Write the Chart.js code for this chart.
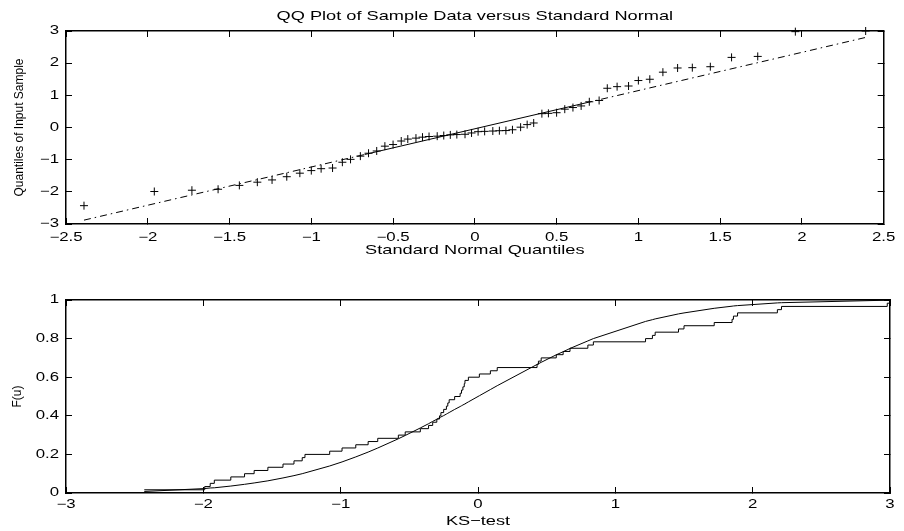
<!DOCTYPE html>
<html>
<head>
<meta charset="utf-8">
<title>QQ Plot of Sample Data versus Standard Normal</title>
<script src="https://cdn.jsdelivr.net/npm/chart.js@4.4.1/dist/chart.umd.min.js"></script>
<style>
  body { margin: 0; background: #fff; }
  #wrap { position: relative; width: 904px; height: 531px; }
  canvas { position: absolute; left: 0; }
  #qqChart { top: 0; }
  #ksChart { top: 265px; }
</style>
</head>
<body>
<div id="wrap">
  <canvas id="qqChart" width="904" height="265"></canvas>
  <canvas id="ksChart" width="904" height="266"></canvas>
</div>
<script>
/* globals Chart:false */

// x of the QQ plot: standard normal quantiles of the 60 points
const normalQuantiles = [
  -2.39, -1.96, -1.73, -1.57, -1.44, -1.33, -1.24, -1.15, -1.07, -1.00,
  -0.94, -0.87, -0.81, -0.76, -0.70, -0.65, -0.60, -0.55, -0.50, -0.45,
  -0.41, -0.36, -0.32, -0.28, -0.23, -0.19, -0.15, -0.11, -0.06, -0.02,
  0.02, 0.06, 0.11, 0.15, 0.19, 0.23, 0.28, 0.32, 0.36, 0.41,
  0.45, 0.50, 0.55, 0.60, 0.65, 0.70, 0.76, 0.81, 0.87, 0.94,
  1.00, 1.07, 1.15, 1.24, 1.33, 1.44, 1.57, 1.73, 1.96, 2.39
];

// sorted sample (y of the QQ plot, jump points of the empirical CDF)
const sampleValues = [
  -2.43, -1.99, -1.95, -1.92, -1.80, -1.70, -1.63, -1.53, -1.42, -1.34,
  -1.28, -1.26, -1.08, -0.99, -0.89, -0.80, -0.73, -0.58, -0.53, -0.42,
  -0.36, -0.33, -0.30, -0.28, -0.27, -0.25, -0.23, -0.22, -0.21, -0.17,
  -0.13, -0.12, -0.11, -0.10, -0.095, -0.07, 0.01, 0.09, 0.14, 0.43,
  0.44, 0.46, 0.57, 0.62, 0.67, 0.80, 0.84, 1.22, 1.27, 1.29,
  1.46, 1.50, 1.72, 1.85, 1.86, 1.89, 2.18, 2.21, 2.98, 3.00
];

// smooth F(u) curve, read at each sample value
const normalCdf = [
  0.008, 0.023, 0.026, 0.027, 0.036, 0.045, 0.052, 0.063, 0.078, 0.090,
  0.100, 0.104, 0.140, 0.161, 0.187, 0.212, 0.233, 0.281, 0.298, 0.337,
  0.359, 0.371, 0.382, 0.390, 0.394, 0.401, 0.409, 0.413, 0.417, 0.433,
  0.448, 0.452, 0.456, 0.460, 0.462, 0.472, 0.504, 0.536, 0.556, 0.666,
  0.670, 0.677, 0.716, 0.732, 0.749, 0.788, 0.800, 0.889, 0.898, 0.902,
  0.928, 0.933, 0.957, 0.968, 0.969, 0.971, 0.985, 0.986, 0.999, 0.999
];

// reference line: ends, first quartile, third quartile
const refLineX = [-2.39, -0.674, 0.674, 2.39];
const refLineY = [-2.88, -0.84, 0.76, 2.80];

const qqXTicks = [-2.5, -2, -1.5, -1, -0.5, 0, 0.5, 1, 1.5, 2, 2.5];
const qqYTicks = [-3, -2, -1, 0, 1, 2, 3];
const ksXTicks = [-3, -2, -1, 0, 1, 2, 3];
const ksYTicks = [0, 0.2, 0.4, 0.6, 0.8, 1];

(() => {
  'use strict'

  Chart.defaults.font.family = "'Liberation Sans', Arial, sans-serif";
  Chart.defaults.color = '#000';
  Chart.defaults.animation = false;

  // the reference text is drawn wide, so stretch horizontal text a bit
  var wideText = {
    id: 'wideText',
    beforeInit: function (chart) {
      var ctx = chart.ctx;
      var fill = ctx.fillText.bind(ctx);
      ctx.fillText = function (text, x, y, maxWidth) {
        var m = ctx.getTransform();
        if (m.b !== 0 || m.c !== 0) return fill(text, x, y, maxWidth);
        ctx.save();
        ctx.translate(x, y);
        ctx.scale(1.4, 1);
        fill(text, 0, 0);
        ctx.restore();
      };
    }
  };

  // one side of the boxed axes, tick marks point inwards
  function makeAxis(position, min, max, tickValues, size, labelPadding, title) {
    return {
      type: 'linear',
      position: position,
      min: min,
      max: max,
      afterBuildTicks: function (scale) {
        scale.ticks = tickValues.map(function (v) { return { value: v }; });
      },
      afterFit: function (scale) {
        if (scale.isHorizontal()) scale.height = size;
        else scale.width = size;
      },
      border: { color: '#000', width: 1.5 },
      grid: { drawOnChartArea: false, color: '#000', lineWidth: 1, tickLength: -6 },
      ticks: {
        display: labelPadding !== null,
        padding: labelPadding || 0,
        autoSkip: false,
        maxRotation: 0,
        font: { size: 12 },
        callback: function (v) { return String(v).replace('-', '\u2212'); }
      },
      title: title || { display: false }
    };
  }

  function pairs(xs, ys) {
    return xs.map(function (x, i) { return { x: x, y: ys[i] }; });
  }

  var qqPoints = pairs(normalQuantiles, sampleValues);
  var lineLeft = pairs(refLineX.slice(0, 2), refLineY.slice(0, 2));
  var lineMid = pairs(refLineX.slice(1, 3), refLineY.slice(1, 3));
  var lineRight = pairs(refLineX.slice(2, 4), refLineY.slice(2, 4));

  var dashDot = [7, 4, 1.5, 4];

  new Chart(document.getElementById('qqChart').getContext('2d'), {
    type: 'scatter',
    data: {
      datasets: [
        { data: qqPoints, pointStyle: 'cross', pointRadius: 4, pointBorderWidth: 1,
          borderColor: '#000', showLine: false, clip: false },
        { data: lineLeft, showLine: true, borderColor: '#000', borderWidth: 1,
          borderDash: dashDot, pointRadius: 0 },
        { data: lineMid, showLine: true, borderColor: '#000', borderWidth: 1, pointRadius: 0 },
        { data: lineRight, showLine: true, borderColor: '#000', borderWidth: 1,
          borderDash: dashDot, pointRadius: 0 }
      ]
    },
    options: {
      responsive: false,
      layout: { padding: { left: 0, right: 14, top: 0, bottom: 0 } },
      plugins: {
        legend: { display: false },
        tooltip: { enabled: false },
        title: {
          display: true,
          fullSize: false,
          text: 'QQ Plot of Sample Data versus Standard Normal',
          font: { size: 13, weight: 'normal' },
          padding: { top: 9, bottom: 6.4 }
        }
      },
      scales: {
        x: makeAxis('bottom', -2.5, 2.5, qqXTicks, 41, 12, {
          display: true, text: 'Standard Normal Quantiles',
          font: { size: 13 }, padding: { top: 0, bottom: 7 }
        }),
        y: makeAxis('left', -3, 3, qqYTicks, 66, 13, {
          display: true, text: 'Quantiles of Input Sample',
          font: { size: 12 }, padding: { top: 12, bottom: 0 }
        }),
        x2: makeAxis('top', -2.5, 2.5, qqXTicks, 0, null),
        y2: makeAxis('right', -3, 3, qqYTicks, 0, null)
      }
    },
    plugins: [wideText]
  });

  // empirical CDF: level k/n from the k-th sorted value
  var ecdf = sampleValues.map(function (v, i) {
    return { x: v, y: (i + 1) / sampleValues.length };
  });
  var cdfCurve = pairs(sampleValues, normalCdf);

  new Chart(document.getElementById('ksChart').getContext('2d'), {
    type: 'scatter',
    data: {
      datasets: [
        { data: ecdf, showLine: true, stepped: true, borderColor: '#000',
          borderWidth: 1, pointRadius: 0, clip: false },
        { data: cdfCurve, showLine: true, borderColor: '#000',
          borderWidth: 1, pointRadius: 0, clip: false }
      ]
    },
    options: {
      responsive: false,
      layout: { padding: { left: 0, right: 14, top: 35, bottom: 0 } },
      plugins: {
        legend: { display: false },
        tooltip: { enabled: false }
      },
      scales: {
        x: makeAxis('bottom', -3, 3, ksXTicks, 38, 10, {
          display: true, text: 'KS\u2212test',
          font: { size: 13 }, padding: { top: 0, bottom: 2 }
        }),
        y: makeAxis('left', 0, 1, ksYTicks, 66, 13, {
          display: true, text: 'F(u)',
          font: { size: 12 }, padding: { top: 10, bottom: 0 }
        }),
        x2: makeAxis('top', -3, 3, ksXTicks, 0, null),
        y2: makeAxis('right', 0, 1, ksYTicks, 0, null)
      }
    },
    plugins: [wideText]
  });
})()
</script>
</body>
</html>
